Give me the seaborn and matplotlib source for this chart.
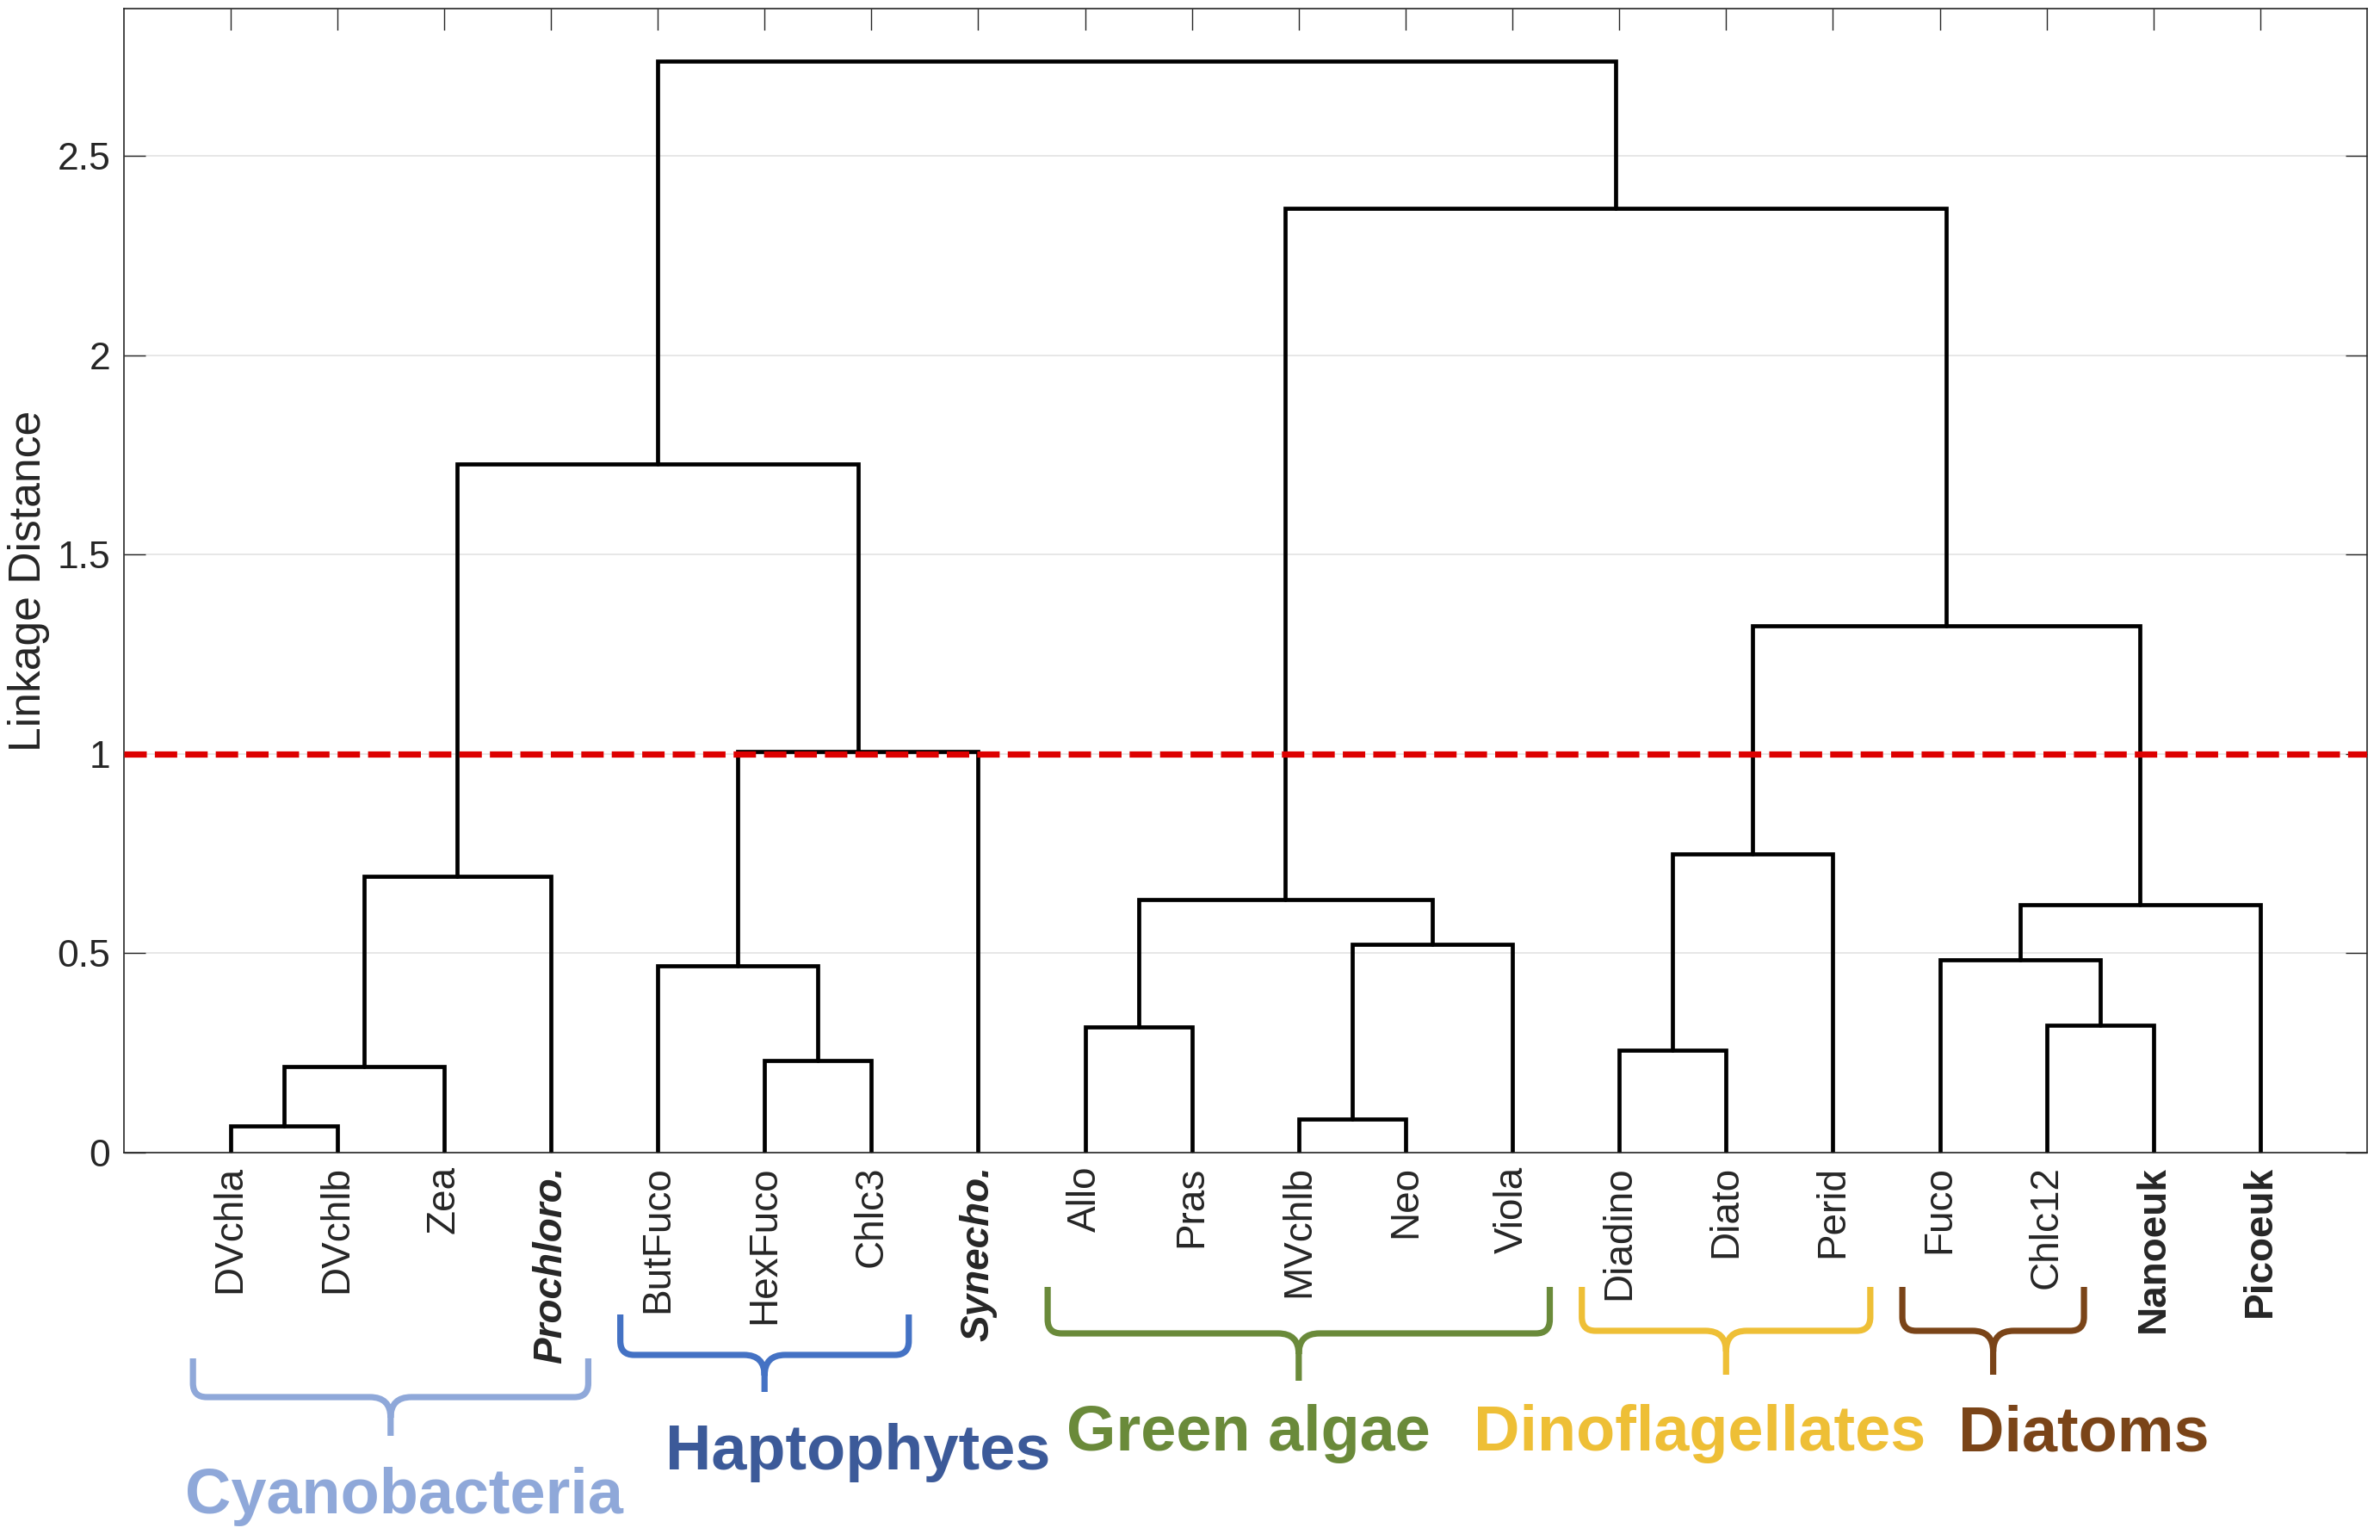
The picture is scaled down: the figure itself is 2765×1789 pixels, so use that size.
import matplotlib
matplotlib.use('Agg')
import matplotlib.pyplot as plt
from matplotlib.path import Path
from matplotlib.patches import PathPatch
from matplotlib.transforms import IdentityTransform, blended_transform_factory
from matplotlib.ticker import FuncFormatter
import seaborn as sns
import pandas as pd

# leaf order of the dendrogram
leaves = ['DVchla', 'DVchlb', 'Zea', 'Prochloro.', 'ButFuco', 'HexFuco', 'Chlc3',
          'Synecho.', 'Allo', 'Pras', 'MVchlb', 'Neo', 'Viola', 'Diadino', 'Diato',
          'Perid', 'Fuco', 'Chlc12', 'Nanoeuk', 'Picoeuk']
bold_italic_leaves = ['Prochloro.', 'Synecho.']
bold_leaves = ['Nanoeuk', 'Picoeuk']

# merges (cN = result of merge N), linkage distance of each merge
merge_a = ['DVchla', 'MVchlb', 'c0', 'HexFuco', 'Diadino', 'Allo', 'Chlc12', 'ButFuco',
           'Fuco', 'c1', 'c8', 'c5', 'c2', 'c4', 'c7', 'c13', 'c12', 'c11', 'c16']
merge_b = ['DVchlb', 'Neo', 'Zea', 'Chlc3', 'Diato', 'Pras', 'Nanoeuk', 'c3',
           'c6', 'Viola', 'Picoeuk', 'c9', 'Prochloro.', 'Perid', 'Synecho.', 'c10',
           'c14', 'c15', 'c17']
merge_height = [0.067, 0.085, 0.216, 0.232, 0.258, 0.316, 0.320, 0.469,
                0.484, 0.523, 0.623, 0.635, 0.694, 0.749, 1.006, 1.321,
                1.728, 2.369, 2.738]
cut_height = 1.0

# pigment groups shown with braces under the leaves
group_names = ['Cyanobacteria', 'Haptophytes', 'Green algae', 'Dinoflagellates', 'Diatoms']
group_first = ['DVchla', 'ButFuco', 'Allo', 'Diadino', 'Fuco']
group_last = ['Prochloro.', 'Chlc3', 'Viola', 'Perid', 'Chlc12']
group_label_x = [2.63, 6.87, 10.53, 14.75, 18.35]

# styling / layout
brace_colors = ['#8FA8D9', '#4472C4', '#6A8A3A', '#EEBF36', '#7A4418']
text_colors = ['#8FA8D9', '#3C5A99', '#6A8A3A', '#EEBF36', '#7A4418']
brace_px = [(1578, 1623, 1668), (1527, 1574, 1617), (1495, 1549, 1604),
            (1495, 1546, 1597), (1495, 1546, 1597)]   # arm top, bar, tip (px from top)
label_baseline_px = [1758, 1707, 1685, 1685, 1685]

W, H, DPI = 2765, 1789, 200

# build the U-shaped links
pos = {name: i + 1 for i, name in enumerate(leaves)}
hgt = {name: 0.0 for name in leaves}
rows = []
for k, (a, b, h) in enumerate(zip(merge_a, merge_b, merge_height)):
    xa, xb = pos[a], pos[b]
    for x, y in [(xa, hgt[a]), (xa, h), (xb, h), (xb, hgt[b])]:
        rows.append({'link': k, 'x': x, 'y': y})
    pos[f'c{k}'] = (xa + xb) / 2
    hgt[f'c{k}'] = h
links = pd.DataFrame(rows)

sns.set_theme(style='ticks')
plt.rcParams['font.family'] = ['Liberation Sans', 'DejaVu Sans']

fig = plt.figure(figsize=(W / DPI, H / DPI), dpi=DPI)
ax = fig.add_axes([143.5 / W, (H - 1339) / H, (2750 - 143.5) / W, (1339 - 10) / H])

ax.yaxis.grid(True, color='#E3E3E3', lw=0.6)
ax.set_axisbelow(True)

sns.lineplot(data=links, x='x', y='y', units='link', estimator=None, sort=False,
             color='black', lw=1.7, ax=ax, solid_joinstyle='miter')
ax.axhline(cut_height, color='#DD0000', lw=2.6, dashes=(3.6, 1.3), zorder=5)

ax.set_xlim(0, len(leaves) + 1)
ax.set_ylim(0, 2.87)
ax.set_xticks(range(1, len(leaves) + 1))
ax.set_xticklabels(leaves, rotation=90, fontsize=16.5)
for lbl in ax.get_xticklabels():
    if lbl.get_text() in bold_italic_leaves:
        lbl.set_fontweight('bold')
        lbl.set_fontstyle('italic')
    elif lbl.get_text() in bold_leaves:
        lbl.set_fontweight('bold')
ax.set_yticks([0, 0.5, 1, 1.5, 2, 2.5])
ax.yaxis.set_major_formatter(FuncFormatter(lambda v, p: f'{v:g}'))
ax.tick_params(axis='y', labelsize=16)
ax.tick_params(axis='both', direction='in', length=9, width=0.5, color='#262626',
               labelcolor='#262626', top=True, right=True, pad=5.5)
ax.set_xlabel('')
ax.set_ylabel('Linkage Distance', fontsize=18.6, color='#262626', labelpad=3)
for sp in ax.spines.values():
    sp.set_color('#262626')
    sp.set_linewidth(0.6)

# braces and group names (drawn in pixel space below the axes)
def brace(xl, xr, xc, yt, yb, yp, color):
    r, r2 = 16, 24
    verts = [(xl, yt), (xl, yb + r), (xl, yb), (xl + r, yb), (xc - r2, yb), (xc, yb), (xc, yb - r2),
             (xc, yp),
             (xr, yt), (xr, yb + r), (xr, yb), (xr - r, yb), (xc + r2, yb), (xc, yb), (xc, yb - r2)]
    codes = [Path.MOVETO, Path.LINETO, Path.CURVE3, Path.CURVE3, Path.LINETO, Path.CURVE3, Path.CURVE3,
             Path.LINETO,
             Path.MOVETO, Path.LINETO, Path.CURVE3, Path.CURVE3, Path.LINETO, Path.CURVE3, Path.CURVE3]
    fig.add_artist(PathPatch(Path(verts, codes), transform=IdentityTransform(), fill=False,
                             edgecolor=color, lw=2.6, capstyle='butt', joinstyle='round'))

pad = 0.35
to_px = lambda x: ax.transData.transform((x, 0))[0]
for i, name in enumerate(group_names):
    x0 = pos[group_first[i]] - pad
    x1 = pos[group_last[i]] + pad
    yt, yb, yp = [H - v for v in brace_px[i]]
    brace(to_px(x0), to_px(x1), to_px((x0 + x1) / 2), yt, yb, yp, brace_colors[i])
    tr = blended_transform_factory(ax.transData, IdentityTransform())
    ax.text(group_label_x[i], H - label_baseline_px[i], name, transform=tr, ha='center',
            va='baseline', fontsize=26.6, fontweight='bold', color=text_colors[i], clip_on=False)

fig.savefig('out.png', dpi=DPI)
